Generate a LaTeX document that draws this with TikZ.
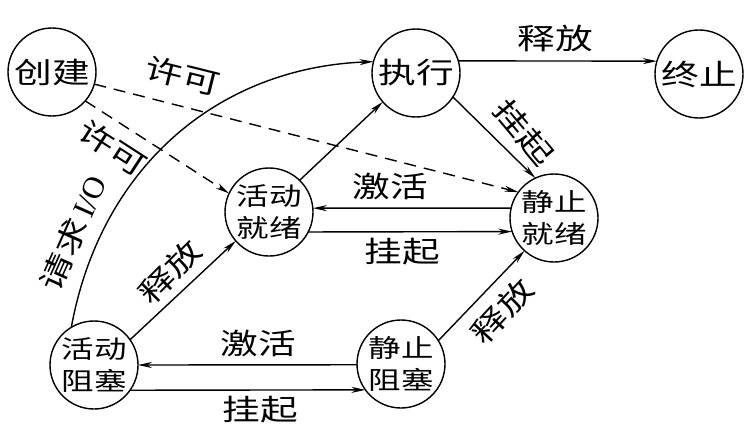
\documentclass[tikz,border=0pt]{standalone}
\usepackage{fontspec}
\setmainfont{Liberation Serif}
\newfontfamily\cjk[FakeStretch=1.3]{Noto Sans CJK SC}
\usetikzlibrary{arrows.meta}
\begin{document}
\begin{tikzpicture}[x=1pt,y=-1pt,
  state/.style={circle,draw,line width=1.4pt,minimum size=88pt,inner sep=0pt,outer sep=0pt,
    font=\cjk\fontsize{29}{33}\selectfont},
  state2/.style={state,align=center,font=\cjk\fontsize{25}{32}\selectfont},
  conn/.style={line width=1.4pt,-{Stealth[length=14pt,width=6pt,inset=4.5pt]}},
  perm/.style={conn,dash pattern=on 12pt off 8pt},
  lab/.style={font=\cjk\fontsize{29}{33}\selectfont,inner sep=0pt}]
\useasboundingbox (0,0) rectangle (752,444);
% states
\node[state] (create) at (52,72) {创建};
\node[state] (exec) at (416,73) {执行};
\node[state] (term) at (699,74) {终止};
\node[state2] (ar) at (269,212) {活动\\就绪};
\node[state2] (sr) at (554,218) {静止\\就绪};
\node[state2] (ab) at (94,365) {活动\\阻塞};
\node[state2] (sb) at (401,364) {静止\\阻塞};
% connectors
\draw[conn] (exec.16) -- (term.163);
\draw[conn] (exec.-33) -- (sr.115);
\draw[perm] (create.-16) -- (sr.144);
\draw[perm] (create.-41) -- (ar.155);
\draw[conn] (ar.46) -- (exec.221);
\draw[conn] (sr.167) -- (ar.5);
\draw[conn] (ar.-27) -- (sr.198);
\draw[conn] (ab.35) -- (ar.221);
\draw[conn] (sb.32) -- (sr.228);
\draw[conn] (sb.181) -- (ab.0);
\draw[conn] (ab.-35) -- (sb.216);
\draw[conn] (ab.121) .. controls (100,170) and (215,68) .. (exec.165);
% labels
\node[lab] (l1) at (555,38) {释放};
\node[lab,rotate=-50] (l2) at (524,132) {挂起};
\node[lab,rotate=-14] (l3) at (183,76) {许可};
\node[lab,rotate=-33] (l4) at (113,148) {许可};
\node[lab] (l5) at (390,186) {激活};
\node[lab] (l6) at (402,252) {挂起};
\node[lab,rotate=45] (l7) at (170,272) {释放};
\node[lab,rotate=47] (l8) at (502,311) {释放};
\node[lab] (l9) at (258,343) {激活};
\node[lab] (l10) at (260,410) {挂起};
\node[lab,rotate=66] (l11) at (73,233) {请求\rmfamily\fontsize{31}{33}\selectfont\,I/O};
\end{tikzpicture}
\end{document}
